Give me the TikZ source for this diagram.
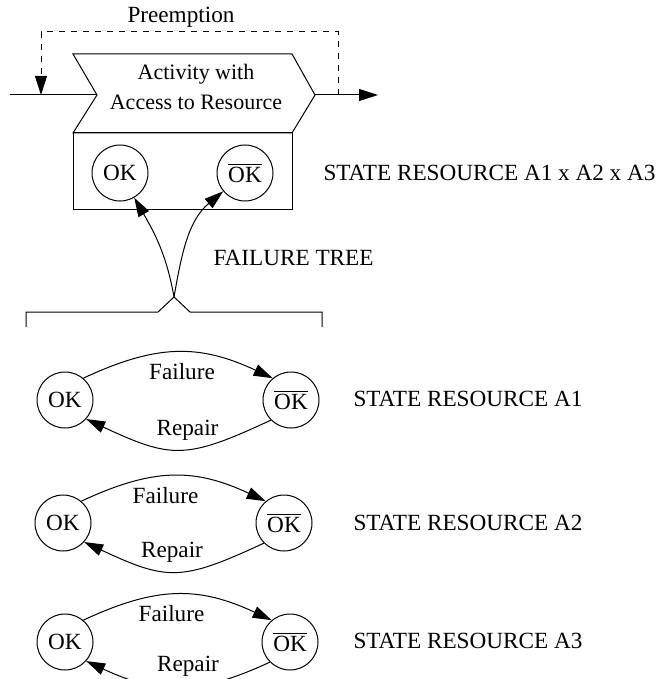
\documentclass[tikz,border=0pt]{standalone}
\usepackage{fontspec}
\setmainfont{Liberation Serif}
\usetikzlibrary{arrows.meta,positioning}
\tikzset{
flow/.style={>={Triangle[length=9.5pt,width=6pt]},x=0.5pt,y=-0.5pt,
line width=0.5pt,font=\fontsize{11.6}{13.5}\selectfont},
state/.style={circle,draw,minimum size=28pt,inner sep=0pt},
side/.style={anchor=west,inner sep=0pt},
fail/.style={->,out=25,in=155,looseness=#1},
fail/.default={1.1},
repair/.style={->,out=-155,in=-25,looseness=#1},
repair/.default={1.3},
}
\newcommand{\nok}{$\overline{\mbox{OK}}$}

\begin{document}
\begin{tikzpicture}[flow]
                \useasboundingbox (0,0) rectangle (662,679);
                % activity with the resource box below
                \coordinate (actin) at (97,95);
                \coordinate (actout) at (315,95);
                \draw (73,54) -- (actin) -- (73,133) -- (292,133) -- (actout) -- (292,54) -- cycle;
                \draw (73,133) rectangle (292,210);
                \node[align=center,font=\fontsize{11}{15}\selectfont] (act) at (196,87) {Activity with\\Access to Resource};
                \node[state] (box0) at (120,173) {OK};
                \node[state] (box1) at (245,173) {\nok};
                \node[side] (stall) at (323,173) {STATE RESOURCE A1 x A2 x A3};

                \coordinate (src) at (10,95);
                \coordinate (snk) at (378,95);
                \draw (src) -- (actin);
                \draw[->] (actout) -- (snk);

                % preemption
                \coordinate (preout) at (338,95);
                \coordinate (prein) at (41,95);
                \node (prelbl) at (181,17) {Preemption};
                \draw[dashed,->] (preout) -- ++(0,-63) -| (prein);

                % failure tree
                \coordinate (fork) at (174,297);
                \draw (26,327) -- (26,312) -- (158,312) -- (fork) -- (190,312) -- (322,312) -- (322,327);
                \draw[->] (fork) to[out=100,in=-60] (box0);
                \draw[->] (fork) to[out=80,in=-140] (box1);
                \node[side] (tree) at (213,258) {FAILURE TREE};

                % resource A1
                \node[state] (ok1) at (65,400) {OK};
                \node[state] (nok1) at (291,400) {\nok};
                \path (ok1.50) edge[fail] node[below=2pt,xshift=2pt] {Failure} (nok1.130);
                \path (nok1.-135) edge[repair] node[above=1pt,xshift=4.5pt] {Repair} (ok1.-42);
                \node[side] (res1) at (353,399) {STATE RESOURCE A1};

                % resource A2
                \node[state] (ok2) at (63,523) {OK};
                \node[state] (nok2) at (284,523) {\nok};
                \path (ok2.50) edge[fail] node[below=2pt,xshift=-4pt] {Failure} (nok2.130);
                \path (nok2.-135) edge[repair] node[above=1pt,xshift=-1pt] {Repair} (ok2.-42);
                \node[side] (res2) at (353,523) {STATE RESOURCE A2};

                % resource A3
                \node[state] (ok3) at (65,642) {OK};
                \node[state] (nok3) at (290,642) {\nok};
                \path (ok3.50) edge[fail] node[below=2pt,xshift=-3pt] {Failure} (nok3.130);
                \path (nok3.-135) edge[repair=1.1] node[above=1.5pt,xshift=5pt] {Repair} (ok3.-42);
                \node[side] (res3) at (353,641) {STATE RESOURCE A3};
\end{tikzpicture}
\end{document}
